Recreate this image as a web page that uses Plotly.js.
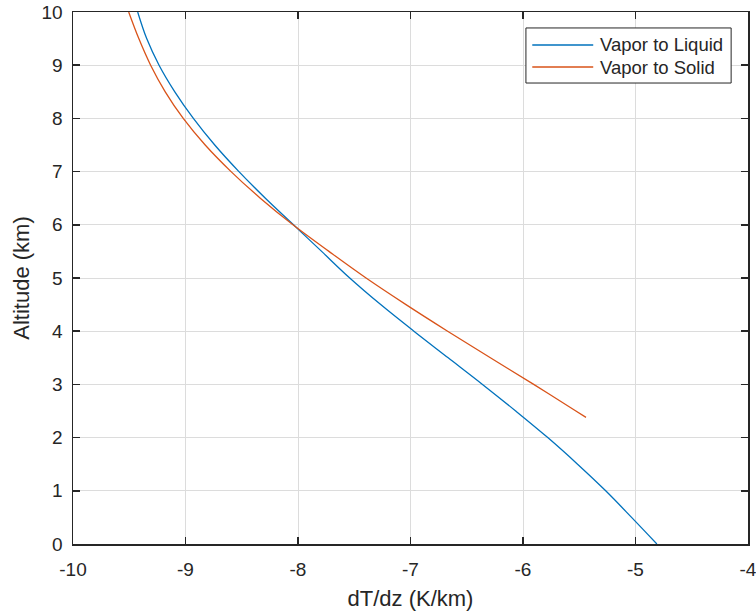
<!DOCTYPE html>
<html>
<head>
<meta charset="utf-8">
<script src="https://cdn.plot.ly/plotly-3.0.1.min.js"></script>
<style>html,body{margin:0;padding:0;background:#fff;}#chart{width:756px;height:613px;}</style>
</head>
<body>
<div id="chart"></div>
<script>
// Altitude (km) and lapse rate dT/dz (K/km)
const liquidAlt  = [0, 0.5, 1, 1.5, 2, 2.5, 3, 3.5, 4, 4.5, 5, 5.5, 6, 6.5, 7, 7.5, 8, 8.5, 9, 9.5, 10];
const liquidRate = [-4.81, -5.035, -5.265, -5.515, -5.78, -6.065, -6.36, -6.665, -6.97, -7.265, -7.54, -7.79, -8.04, -8.29, -8.525, -8.74, -8.93, -9.095, -9.235, -9.345, -9.425];
const solidAlt   = [2.38, 2.5, 3, 3.5, 4, 4.5, 5, 5.5, 6, 6.5, 7, 7.5, 8, 8.5, 9, 9.5, 10];
const solidRate  = [-5.44, -5.53, -5.905, -6.29, -6.67, -7.04, -7.395, -7.725, -8.045, -8.335, -8.595, -8.825, -9.02, -9.18, -9.31, -9.415, -9.505];
const seriesNames = ['Vapor to Liquid', 'Vapor to Solid'];
const seriesColors = ['#0072BD', '#D95319'];
const xTicks = [-10, -9, -8, -7, -6, -5, -4];
const yTicks = [0, 1, 2, 3, 4, 5, 6, 7, 8, 9, 10];

const font = 'Arial, "Liberation Sans", Helvetica, sans-serif';
const dark = '#262626';

const traces = [
  {x: liquidRate, y: liquidAlt, name: seriesNames[0], mode: 'lines',
   line: {color: seriesColors[0], width: 1.3, shape: 'spline', smoothing: 1}},
  {x: solidRate, y: solidAlt, name: seriesNames[1], mode: 'lines',
   line: {color: seriesColors[1], width: 1.3, shape: 'spline', smoothing: 1}}
];

const axisCommon = {
  showline: true, linecolor: dark, linewidth: 1.5, mirror: 'ticks',
  ticks: 'inside', ticklen: 7, tickwidth: 1.5, tickcolor: dark,
  showgrid: true, gridcolor: '#dcdcdc', gridwidth: 1,
  zeroline: false, ticklabeloverflow: 'allow',
  tickfont: {family: font, size: 19, color: dark}
};

// Legend drawn in paper coordinates (MATLAB-style box)
const leg = {x0: 0.671, x1: 0.975, y0: 0.8665, y1: 0.970,
             lineX0: 0.6804, lineX1: 0.7707, textX: 0.778, rows: [0.938, 0.8966]};
const shapes = [
  {type: 'rect', xref: 'paper', yref: 'paper', x0: leg.x0, x1: leg.x1, y0: leg.y0, y1: leg.y1,
   line: {color: dark, width: 1}, fillcolor: '#ffffff', layer: 'above'}
];
const annotations = [];
seriesNames.forEach((name, i) => {
  shapes.push({type: 'line', xref: 'paper', yref: 'paper', x0: leg.lineX0, x1: leg.lineX1,
               y0: leg.rows[i], y1: leg.rows[i], line: {color: seriesColors[i], width: 1.3}, layer: 'above'});
  annotations.push({xref: 'paper', yref: 'paper', x: leg.textX, y: leg.rows[i], xanchor: 'left', yanchor: 'middle',
                    text: name, showarrow: false, font: {family: font, size: 18.5, color: dark}});
});

const layout = {
  width: 756, height: 613,
  margin: {l: 73, r: 8, t: 12, b: 69},
  paper_bgcolor: '#ffffff', plot_bgcolor: '#ffffff',
  showlegend: false,
  xaxis: Object.assign({}, axisCommon, {
    range: [-10, -4], tickvals: xTicks, ticktext: xTicks.map(String), ticklabelstandoff: 8,
    title: {text: 'dT/dz (K/km)', font: {family: font, size: 22, color: dark}, standoff: 11}
  }),
  yaxis: Object.assign({}, axisCommon, {
    range: [0, 10], tickvals: yTicks, ticktext: yTicks.map(String), ticklabelstandoff: 5,
    title: {text: 'Altitude (km)', font: {family: font, size: 22, color: dark}, standoff: 6}
  }),
  shapes: shapes,
  annotations: annotations
};

Plotly.newPlot('chart', traces, layout, {staticPlot: true, displayModeBar: false});
</script>
</body>
</html>
